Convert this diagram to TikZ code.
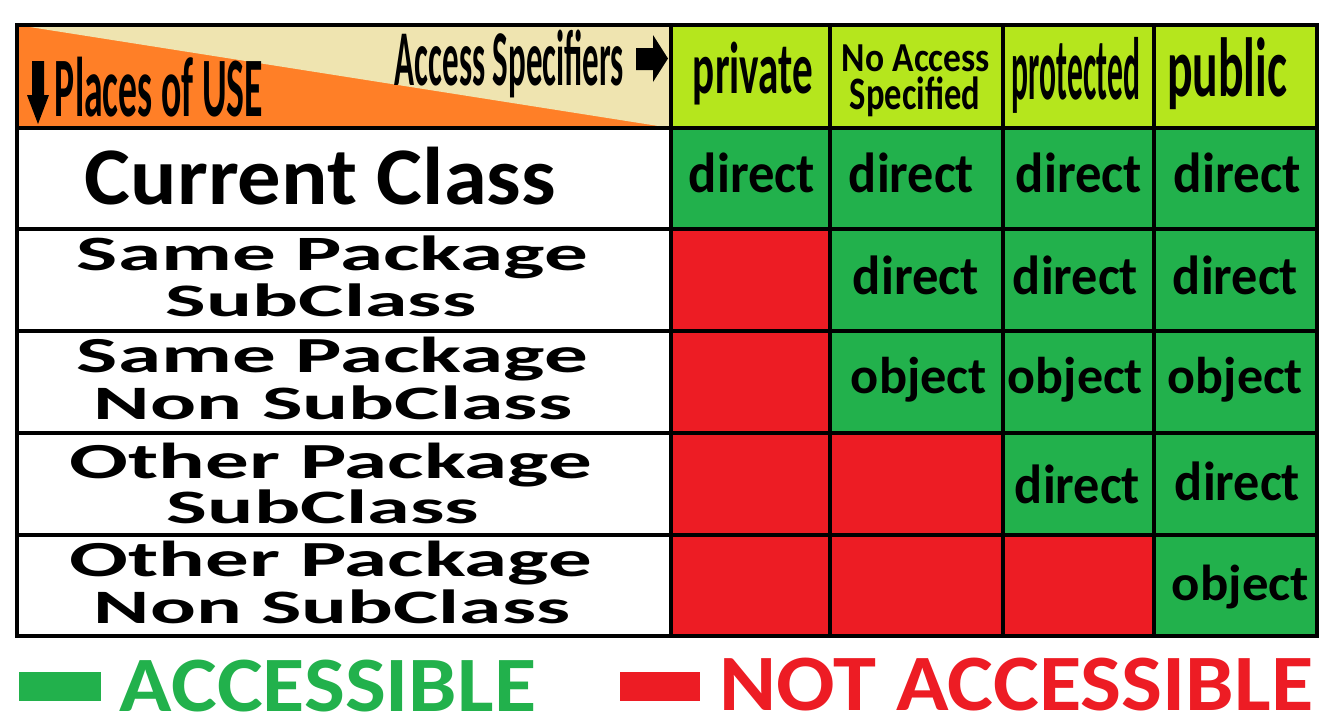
\documentclass[tikz,border=0pt]{standalone}
\usepackage{fontspec}
\setmainfont{Carlito}
\usepackage{graphicx}
\usepackage{tikz}
\definecolor{accgreen}{HTML}{22B14C}
\definecolor{noaccred}{HTML}{ED1C24}
\definecolor{speclime}{HTML}{B5E61D}
\definecolor{useorange}{HTML}{FF7F27}
\definecolor{specbeige}{HTML}{EFE4B0}
\def\word#1#2#3#4#5{\node[word] (#1) at (#2) {\resizebox*{#3pt}{#4pt}{#5}}}
\tikzstyle{word}=[inner sep=0pt,font=\bfseries]
\tikzstyle{grid}=[line width=4.5pt]
\tikzstyle{yes}=[fill=accgreen]
\tikzstyle{no}=[fill=noaccred]
\tikzstyle{key}=[inner sep=0pt,minimum height=29pt]

\begin{document}
\begin{tikzpicture}[x=1pt,y=-1pt]
    \useasboundingbox (0,0) rectangle (1342,726);
    \fill[useorange] (17,25) rectangle (671,128);
    \fill[specbeige] (17,25) -- (671,25) -- (671,128) -- cycle;
    \fill[speclime] (671,25) rectangle (1317,128);
    \fill[white] (17,128) rectangle (671,636);
    \foreach \yt/\yb/\nred in {128/229/0,229/331/1,331/433/1,433/535/2,535/636/3}
    \foreach \xl/\xr [count=\i] in {671/830,830/1003,1003/1154,1154/1317} {
        \ifnum\i>\nred \def\st{yes}\else\def\st{no}\fi
        \path[\st] (\xl,\yt) rectangle (\xr,\yb);
    }
    \draw[grid] (17,25) rectangle (1317,636);
    \foreach \x in {671,830,1003,1154} \draw[grid] (\x,25) -- (\x,636);
    \foreach \y in {128,229,331,433,535} \draw[grid] (17,\y) -- (1317,\y);
    \fill (32,61) -- (44,61) -- (44,95) -- (49,95) -- (38,124) -- (27,95) -- (32,95) -- cycle;
    \fill (636,48) -- (653,48) -- (653,35) -- (668,58.5) -- (653,82) -- (653,70) -- (636,70) -- cycle;
    \word{access}{509.5,64}{229}{68}{Access Specifiers};
    \word{places}{159,87}{208}{60}{Places of USE};
    \word{private}{753,73.5}{120}{63}{private};
    \word{noneA}{916,58.5}{148}{27}{No Access};
    \word{noneB}{915,97}{130}{40}{Specified};
    \word{protected}{1076,75}{128}{76}{protected};
    \word{public}{1227,74}{120}{72}{public};
    \word{current}{320.5,176}{471}{58}{Current Class};
    \word{spsA}{332.5,257.5}{511}{43}{Same Package};
    \word{spsB}{321,300.5}{310}{33}{SubClass};
    \word{spnA}{332.5,359}{511}{44}{Same Package};
    \word{spnB}{333,403}{478}{34}{Non SubClass};
    \word{opsA}{331,465}{522}{44}{Other Package};
    \word{opsB}{323,507}{312}{34}{SubClass};
    \word{opnA}{331,563}{522}{44}{Other Package};
    \word{opnB}{332,607}{476}{34}{Non SubClass};
    \word{c11}{752,173}{126}{40}{direct};
    \word{c12}{911.5,173}{125}{40}{direct};
    \word{c13}{1079,173}{126}{40}{direct};
    \word{c14}{1237.5,173}{127}{40}{direct};
    \word{c22}{916,275.5}{126}{39}{direct};
    \word{c23}{1075.5,275.5}{125}{39}{direct};
    \word{c24}{1235.5,275.5}{125}{39}{direct};
    \word{c32}{919,379.5}{136}{45}{object};
    \word{c33}{1075.5,379.5}{135}{45}{object};
    \word{c34}{1235.5,379.5}{135}{45}{object};
    \word{c43}{1077.5,484}{125}{39}{direct};
    \word{c44}{1237.5,481}{125}{39}{direct};
    \word{c54}{1240.5,587.5}{137}{44}{object};
    \node[key,fill=accgreen,minimum width=82pt] (keyyes) at (60,686.5) {};
    \node[word,text=accgreen] (yestext) at (328,686) {\resizebox*{416pt}{52pt}{ACCESSIBLE}};
    \node[key,fill=noaccred,minimum width=80pt] (keyno) at (660,686.5) {};
    \node[word,text=noaccred] (notext) at (1016.5,685) {\resizebox*{593pt}{53pt}{NOT ACCESSIBLE}};
\end{tikzpicture}
\end{document}
